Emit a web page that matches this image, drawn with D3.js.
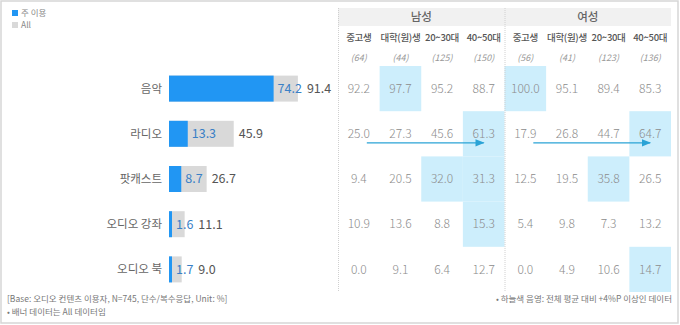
<!DOCTYPE html>
<html><head><meta charset="utf-8">
<script src="https://cdn.jsdelivr.net/npm/d3@7"></script>
<style>
html,body{margin:0;padding:0;background:#fff;}
svg{display:block;font-family:"Noto Sans CJK KR","Noto Sans",sans-serif;}
</style></head>
<body>
<svg id="c" width="680" height="325"></svg>
<script>
const categories = ["음악","라디오","팟캐스트","오디오 강좌","오디오 북"];
const mainUse = [74.2, 13.3, 8.7, 1.6, 1.7];
const allUse = [91.4, 45.9, 26.7, 11.1, 9.0];
const groups = ["남성","여성"];
const segments = ["중고생","대학(원)생","20~30대","40~50대","중고생","대학(원)생","20~30대","40~50대"];
const sampleN = ["(64)","(44)","(125)","(150)","(56)","(41)","(123)","(136)"];
const tableValues = [
  [92.2, 97.7, 95.2, 88.7, 100.0, 95.1, 89.4, 85.3],
  [25.0, 27.3, 45.6, 61.3, 17.9, 26.8, 44.7, 64.7],
  [9.4, 20.5, 32.0, 31.3, 12.5, 19.5, 35.8, 26.5],
  [10.9, 13.6, 8.8, 15.3, 5.4, 9.8, 7.3, 13.2],
  [0.0, 9.1, 6.4, 12.7, 0.0, 4.9, 10.6, 14.7]
];
const highlights = [[0,1],[0,4],[1,3],[1,7],[2,2],[2,3],[2,6],[3,3],[4,7]];
const arrows = [{row:1, from:0, to:3},{row:1, from:4, to:7}];
const legendItems = ["주 이용","All"];
const footLeft = ["[Base: 오디오 컨텐츠 이용자, N=745, 단수/복수응답, Unit: %]","• 배너 데이터는 All 데이터임"];
const footRight = "• 하늘색 음영: 전체 평균 대비 +4%P 이상인 데이터";

const svg = d3.select("#c");
const BLUE = "#2196f3", GRAY = "#d9d9d9", HL = "#cdeefc", ARROW = "#2aa3d6";

// outer frame
svg.append("rect").attr("x",1).attr("y",1).attr("width",677).attr("height",322)
  .attr("fill","none").attr("stroke","#d6d6d6").attr("stroke-width",1.5);

// scales
const y = d3.scaleBand().domain(d3.range(categories.length)).range([66, 292]);
const x = d3.scaleLinear().domain([0, 100]).range([169, 310]);
const col = d3.scaleBand().domain(d3.range(segments.length)).range([338, 671]);
const grp = d3.scaleBand().domain(d3.range(groups.length)).range([338, 671]);

// legend
const lg = svg.append("g");
legendItems.forEach((t,i)=>{
  lg.append("rect").attr("x",12).attr("y",10+i*12).attr("width",6).attr("height",6)
    .attr("fill", i===0?BLUE:GRAY);
  lg.append("text").attr("x",21).attr("y",13+i*12).attr("dy","0.35em").attr("font-size",8.5).attr("fill","#888").text(t);
});

// bars
const bh = 26;
const rows = svg.append("g").selectAll("g").data(categories).join("g")
  .attr("transform",(d,i)=>`translate(0,${y(i)+y.bandwidth()/2})`);
rows.append("text").attr("x",162).attr("y",0).attr("dy","0.35em").attr("text-anchor","end")
  .attr("font-size",11.5).attr("fill","#666").text(d=>d);
rows.append("rect").attr("x",x(0)).attr("y",-bh/2).attr("height",bh)
  .attr("width",(d,i)=>x(allUse[i])-x(0)).attr("fill",GRAY);
rows.append("rect").attr("x",x(0)).attr("y",-bh/2).attr("height",bh)
  .attr("width",(d,i)=>Math.max(3, x(mainUse[i])-x(0))).attr("fill",BLUE);
rows.each(function(d,i){
  const g = d3.select(this);
  const bx = Math.max(x(0)+3, x(mainUse[i])) + 4;
  const t1 = g.append("text").attr("x",bx).attr("y",0).attr("dy","0.35em")
    .attr("font-size",12.5).attr("fill","#3a80c6").text(mainUse[i].toFixed(1));
  const w1 = t1.node().getComputedTextLength();
  const gx = Math.max(x(allUse[i]) + 5, bx + w1 + 5);
  g.append("text").attr("x",gx).attr("y",0).attr("dy","0.35em")
    .attr("font-size",12.5).attr("fill","#555").text(allUse[i].toFixed(1));
});

// table header
svg.append("rect").attr("x",338).attr("y",8).attr("width",333).attr("height",18).attr("fill","#f1f1f1");
svg.selectAll(".grp").data(groups).join("text").attr("class","grp")
  .attr("x",(d,i)=>grp(i)+grp.bandwidth()/2).attr("y",17).attr("dy","0.35em")
  .attr("text-anchor","middle").attr("font-size",11.5).attr("fill","#666").attr("font-weight",500).text(d=>d);
svg.selectAll(".seg").data(segments).join("text").attr("class","seg")
  .attr("x",(d,i)=>col(i)+col.bandwidth()/2).attr("y",38).attr("dy","0.35em")
  .attr("text-anchor","middle").attr("font-size",9.5).attr("letter-spacing",-0.3)
  .attr("fill","#555").attr("font-weight",500).text(d=>d);
svg.selectAll(".n").data(sampleN).join("text").attr("class","n")
  .attr("x",(d,i)=>col(i)+col.bandwidth()/2).attr("y",58).attr("dy","0.35em")
  .attr("text-anchor","middle").attr("font-size",9).attr("font-style","italic").attr("fill","#999").text(d=>d);

// highlights
svg.append("g").selectAll("rect").data(highlights).join("rect")
  .attr("x",d=>col(d[1])).attr("y",d=>y(d[0])).attr("width",col.bandwidth()).attr("height",y.bandwidth())
  .attr("fill",HL);

// vertical dividers
[0,1].forEach(i=>{
  svg.append("line").attr("x1",grp(i)+0.5).attr("x2",grp(i)+0.5).attr("y1",8).attr("y2",292)
    .attr("stroke","#d0d0d0").attr("stroke-width",1).attr("stroke-dasharray","1,1");
});

// table values
const tv = svg.append("g");
tableValues.forEach((r,ri)=>{
  tv.selectAll(null).data(r).join("text")
    .attr("x",(d,ci)=>col(ci)+col.bandwidth()/2).attr("y",y(ri)+y.bandwidth()/2).attr("dy","0.35em")
    .attr("text-anchor","middle").attr("font-size",12).attr("font-weight",300)
    .attr("fill","#8c8c8c").text(d=>d.toFixed(1));
});

// arrows
const defs = svg.append("defs");
defs.append("marker").attr("id","ah").attr("viewBox","0 0 10 10").attr("refX",9).attr("refY",5)
  .attr("markerWidth",7).attr("markerHeight",7).attr("orient","auto")
  .append("path").attr("d","M0,1L10,5L0,9Z").attr("fill",ARROW);
svg.append("g").selectAll("line").data(arrows).join("line")
  .attr("x1",d=>col(d.from)+col.bandwidth()/2+8).attr("x2",d=>col(d.to)+col.bandwidth()/2)
  .attr("y1",d=>y(d.row)+y.bandwidth()/2+9).attr("y2",d=>y(d.row)+y.bandwidth()/2+9)
  .attr("stroke",ARROW).attr("stroke-width",1.3).attr("marker-end","url(#ah)");

// footer
footLeft.forEach((t,i)=>{
  svg.append("text").attr("x",7).attr("y",299+i*13).attr("dy","0.35em")
    .attr("font-size",8.5).attr("fill","#777").text(t);
});
svg.append("text").attr("x",672).attr("y",299).attr("dy","0.35em").attr("text-anchor","end")
  .attr("font-size",8.5).attr("fill","#777").text(footRight);
</script>
</body></html>
